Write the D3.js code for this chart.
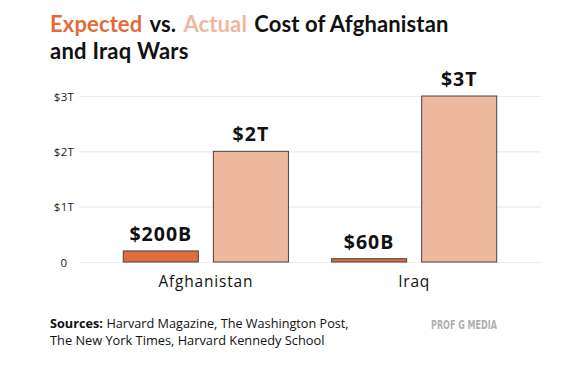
<!DOCTYPE html>
<html><head><meta charset="utf-8">
<script src="https://cdn.jsdelivr.net/npm/d3@7"></script>
<style>
html,body{margin:0;padding:0;background:#fff;}
svg{display:block;font-family:"Open Sans",sans-serif;}
</style></head>
<body>
<svg id="chart" width="570" height="376"></svg>
<script>
const categories = ["Afghanistan", "Iraq"];
const seriesNames = ["Expected", "Actual"];
const expectedValues = [0.2, 0.06];   // trillions USD
const actualValues = [2, 3];          // trillions USD
const expectedLabels = ["$200B", "$60B"];
const actualLabels = ["$2T", "$3T"];
const tickValues = [0, 1, 2, 3];
const tickLabels = ["0", "$1T", "$2T", "$3T"];
const colors = {Expected: "#E06B3B", Actual: "#EEB89F"};

(function draw() {
const svg = d3.select("#chart");
const mLeft = 79, mRight = 541, mTop = 96, mBottom = 262;

const y = d3.scaleLinear().domain([0, 3]).range([mBottom, mTop]);
const x0 = d3.scaleBand().domain(categories).range([mLeft, mRight]).paddingInner(0.207).paddingOuter(0.2125);
const x1 = d3.scaleBand().domain(seriesNames).range([0, x0.bandwidth()]).paddingInner(0.1667).paddingOuter(0);

// gridlines + tick labels
const yAxis = d3.axisLeft(y).tickValues(tickValues).tickSize(-(mRight - mLeft)).tickFormat((d, i) => tickLabels[i]);
const g = svg.append("g").attr("transform", `translate(${mLeft},0)`).call(yAxis);
g.select(".domain").remove();
g.selectAll(".tick line").attr("stroke", "#ebebeb").attr("stroke-width", 1.2);
g.selectAll(".tick text").attr("x", -15).attr("text-anchor", "middle")
  .attr("font-family", "Open Sans, sans-serif").attr("font-size", 11.5).attr("letter-spacing", 0.4)
  .attr("fill", "#222").attr("dy", "0.35em");

// bars
const data = categories.map((c, i) => ({
  cat: c,
  items: [
    {s: "Expected", v: expectedValues[i], label: expectedLabels[i]},
    {s: "Actual", v: actualValues[i], label: actualLabels[i]}
  ]
}));
const groups = svg.append("g").selectAll("g").data(data).join("g")
  .attr("transform", d => `translate(${x0(d.cat)},0)`);
groups.selectAll("rect").data(d => d.items).join("rect")
  .attr("x", d => x1(d.s)).attr("width", x1.bandwidth())
  .attr("y", d => y(d.v)).attr("height", d => y(0) - y(d.v))
  .attr("fill", d => colors[d.s]).attr("stroke", "#444").attr("stroke-width", 1);
groups.selectAll("text.val").data(d => d.items).join("text").attr("class", "val")
  .attr("x", d => x1(d.s) + x1.bandwidth() / 2).attr("y", d => y(d.v) - 10)
  .attr("text-anchor", "middle").attr("font-weight", 700).attr("font-size", 19.5).attr("letter-spacing", 1)
  .attr("fill", "#111")
  .text(d => d.label);

// category axis labels
svg.append("g").selectAll("text").data(categories).join("text")
  .attr("x", d => x0(d) + x0.bandwidth() / 2).attr("y", 287)
  .attr("text-anchor", "middle").attr("font-size", 15.5).attr("letter-spacing", 0.8)
  .attr("fill", "#111").text(d => d);

// title (separate words placed one after another)
const tf = "Lato, sans-serif";
const titleParts = [
  {t: "Expected", c: colors.Expected},
  {t: "vs.", c: "#111"},
  {t: "Actual", c: colors.Actual},
  {t: "Cost of Afghanistan", c: "#111"}
];
let tx = 50;
titleParts.forEach(p => {
  const node = svg.append("text").attr("x", tx).attr("y", 32).attr("font-family", tf)
    .attr("font-weight", 700).attr("font-size", 22).attr("letter-spacing", 0.13)
    .attr("fill", p.c).text(p.t);
  tx += node.node().getComputedTextLength() + 7.2;
});
svg.append("text").attr("x", 50).attr("y", 58.6).attr("font-family", tf)
  .attr("font-weight", 700).attr("font-size", 22).attr("letter-spacing", 0.25)
  .attr("fill", "#111").text("and Iraq Wars");

// sources
const sb = svg.append("text").attr("x", 50).attr("y", 328).attr("font-size", 12.7)
  .attr("font-weight", 700).attr("fill", "#111").text("Sources:");
const sw = sb.node().getComputedTextLength();
svg.append("text").attr("x", 50 + sw + 3.5).attr("y", 328).attr("font-size", 12.7).attr("fill", "#111")
  .text("Harvard Magazine, The Washington Post,");
svg.append("text").attr("x", 50).attr("y", 345).attr("font-size", 12.8).attr("fill", "#111").text("The New York Times, Harvard Kennedy School");

svg.append("text").attr("x", 431).attr("y", 329).attr("font-family", "Liberation Sans Narrow, DejaVu Sans Condensed, sans-serif")
  .attr("font-weight", 700).attr("font-size", 13).attr("fill", "#b0b0b0")
  .attr("textLength", 66).attr("lengthAdjust", "spacingAndGlyphs").text("PROF G MEDIA");
})();
</script>
</body></html>
